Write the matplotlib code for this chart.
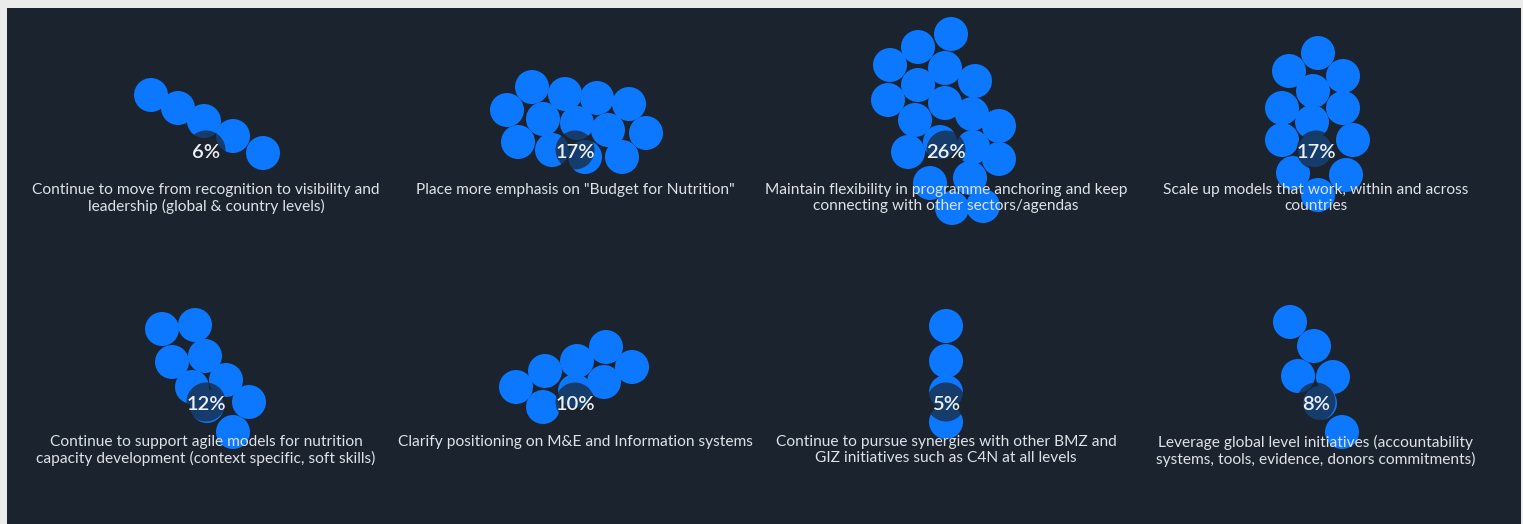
import matplotlib
matplotlib.use("Agg")
import matplotlib.pyplot as plt
from matplotlib.patches import Circle, Rectangle

# ---- data ----
percent_labels = ["6%", "17%", "26%", "17%", "12%", "10%", "5%", "8%"]
captions = [
    "Continue to move from recognition to visibility and\nleadership (global & country levels)",
    "Place more emphasis on \"Budget for Nutrition\"",
    "Maintain flexibility in programme anchoring and keep\nconnecting with other sectors/agendas",
    "Scale up models that work, within and across\ncountries",
    "Continue to support agile models for nutrition\ncapacity development (context specific, soft skills)",
    "Clarify positioning on M&E and Information systems",
    "Continue to pursue synergies with other BMZ and\nGIZ initiatives such as C4N at all levels",
    "Leverage global level initiatives (accountability\nsystems, tools, evidence, donors commitments)",
]
# bubble offsets (dx, dy) from each panel's label centre
bubbles_x = [
    [-55, -28, -2, 27, 57],
    [-43, -68, -10, 22, 54, -32, 2, 33, 71, -57, -23, 10, 47],
    [5, -28, -56, -1, 29, -28, -58, -1, 26, -31, 53, -38, -6, 27, 53, -16, 24, 6, 37],
    [2, -27, 27, -3, -34, 27, -4, -34, 37, -1, -23, 30, 2],
    [-44, -11, -34, -1, -14, 20, 43, 27, 1],
    [-59, -30, 2, 31, 57, 29, -32, 0],
    [0, 0, 0, 0],
    [-26, -2, -18, 17, 26, 4],
]
bubbles_y = [
    [-57, -44, -31, -16, 1],
    [-65, -42, -58, -54, -48, -33, -29, -22, -19, -10, -2, 5, 5],
    [-118, -105, -87, -84, -71, -67, -52, -49, -38, -32, -26, 0, -10, -5, 7, 31, 26, 56, 54],
    [-99, -81, -76, -61, -44, -44, -30, -12, -12, -2, 21, 23, 43],
    [-75, -79, -42, -48, -17, -24, -2, 28, 2],
    [-17, -33, -43, -57, -37, -22, 3, -13],
    [-78, -43, -12, 18],
    [-82, -58, -28, -27, 28, -1],
]

# ---- layout / style ----
FIG_W, FIG_H = 1523, 524
col_x = [206, 575, 946, 1316]
row_y = [152, 404]
R_BUBBLE = 17
R_OVERLAY = 19.5
BG = "#1b232e"
BLUE = "#0b78ff"

fig = plt.figure(figsize=(FIG_W / 100, FIG_H / 100), dpi=100)
fig.patch.set_facecolor("#ebebeb")
ax = fig.add_axes([0, 0, 1, 1])
ax.set_xlim(0, FIG_W)
ax.set_ylim(FIG_H, 0)
ax.set_aspect("equal")
ax.axis("off")
ax.add_patch(Rectangle((7, 8), 1514, 520, facecolor=BG, edgecolor="none", zorder=0))

for i, (lab, cap, bx, by) in enumerate(zip(percent_labels, captions, bubbles_x, bubbles_y)):
    cx = col_x[i % 4]
    cy = row_y[i // 4]
    for dx, dy in zip(bx, by):
        ax.add_patch(Circle((cx + dx, cy + dy), R_BUBBLE, facecolor=BLUE, edgecolor="none", zorder=2))
    ax.add_patch(Circle((cx, cy - 2), R_OVERLAY, facecolor=BG, alpha=0.7, edgecolor="none", zorder=3))
    ax.text(cx, cy, lab, ha="center", va="center", color="#eef2f7", fontsize=14.5,
            family="Lato", fontweight="semibold", zorder=5)
    ax.text(cx, cy + 31, cap, ha="center", va="top", color="#dde2e8", fontsize=11.2,
            family="Lato", linespacing=1.15, zorder=5)

fig.savefig("out.png", dpi=100, facecolor=fig.get_facecolor())
